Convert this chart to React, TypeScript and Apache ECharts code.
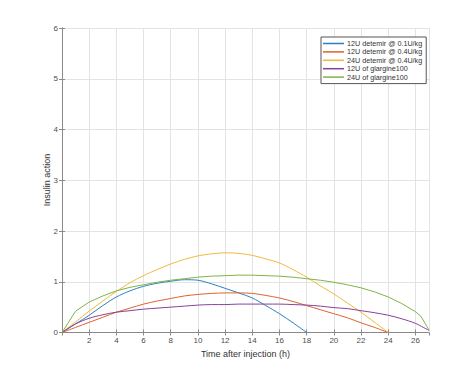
import React, { useEffect, useRef } from "react";
import * as echarts from "echarts";

const seriesNames = [
  "12U detemir @ 0.1U/kg",
  "12U detemir @ 0.4U/kg",
  "24U detemir @ 0.4U/kg",
  "12U of glargine100",
  "24U of glargine100",
];
const colors = ["#2a80c6", "#dc6330", "#eeba3a", "#87409a", "#80b444"];

const t18 = [0, 1, 2, 3, 4, 5, 6, 7, 8, 9, 10, 11, 12, 13, 14, 15, 16, 17, 18];
const t24 = [0, 1, 2, 3, 4, 5, 6, 7, 8, 9, 10, 11, 12, 13, 14, 15, 16, 17, 18, 19, 20, 21, 22, 23, 24];
const t27 = [0, 1, 2, 3, 4, 5, 6, 7, 8, 9, 10, 11, 12, 13, 14, 15, 16, 17, 18, 19, 20, 21, 22, 23, 24, 25, 26, 27];
const tGreen = [0, 1, 2, 3, 4, 5, 6, 7, 8, 9, 10, 11, 12, 13, 14, 15, 16, 17, 18, 19, 20, 21, 22, 23, 24, 25, 26, 26.4, 27];

const blue = [0, 0.17, 0.34, 0.53, 0.7, 0.82, 0.91, 0.97, 1.01, 1.04, 1.03, 0.96, 0.87, 0.78, 0.68, 0.53, 0.37, 0.19, 0];
const red = [0, 0.1, 0.2, 0.3, 0.4, 0.48, 0.56, 0.62, 0.67, 0.72, 0.75, 0.77, 0.78, 0.78, 0.77, 0.73, 0.68, 0.61, 0.53, 0.45, 0.37, 0.29, 0.19, 0.1, 0];
const yellow = [0, 0.21, 0.42, 0.62, 0.81, 0.98, 1.12, 1.24, 1.35, 1.44, 1.51, 1.55, 1.57, 1.56, 1.52, 1.45, 1.37, 1.24, 1.09, 0.92, 0.76, 0.58, 0.4, 0.2, 0];
const purple = [0, 0.17, 0.28, 0.35, 0.4, 0.43, 0.46, 0.48, 0.5, 0.52, 0.54, 0.55, 0.55, 0.56, 0.56, 0.56, 0.56, 0.55, 0.54, 0.52, 0.49, 0.47, 0.43, 0.39, 0.34, 0.27, 0.18, 0.04];
const green = [0, 0.42, 0.6, 0.72, 0.82, 0.89, 0.94, 0.99, 1.03, 1.06, 1.09, 1.11, 1.12, 1.13, 1.13, 1.12, 1.11, 1.09, 1.06, 1.03, 0.99, 0.94, 0.88, 0.8, 0.7, 0.57, 0.41, 0.32, 0.05];

const xMin = 0;
const xMax = 27;
const xInterval = 2;
const yMin = 0;
const yMax = 6;
const yInterval = 1;
const yAxisTitle = "Insulin action";
const xAxisTitle = "Time after injection (h)";

const pair = (ts: number[], vs: number[]) => ts.map((t, i) => [t, vs[i]]);

export default function App() {
  const ref = useRef<HTMLDivElement>(null);
  useEffect(() => {
    if (!ref.current) return;
    const chart = echarts.init(ref.current, undefined, { renderer: "svg" });
    const axisColor = "#8a8a8a";
    const labelColor = "#4d4d4d";
    const gridColor = "#e3e3e3";
    const font = "Arial, 'Liberation Sans', sans-serif";
    const data = [
      pair(t18, blue),
      pair(t24, red),
      pair(t24, yellow),
      pair(t27, purple),
      pair(tGreen, green),
    ];
    chart.setOption({
      animation: false,
      backgroundColor: "#ffffff",
      grid: { left: 62, top: 28, right: 45, bottom: 41.5 },
      graphic: [
        {
          type: "text",
          x: 47,
          y: 180,
          rotation: Math.PI / 2,
          style: {
            text: yAxisTitle,
            fontSize: 9,
            fill: "#333333",
            fontFamily: font,
            align: "center",
            verticalAlign: "middle",
          },
        },
      ],
      legend: {
        data: seriesNames.map((n, i) => ({
          name: n,
          icon: "rect",
          itemStyle: { color: colors[i] },
        })),
        orient: "vertical",
        left: 321,
        top: 37,
        itemWidth: 21,
        itemHeight: 1.5,
        itemGap: 0.4,
        padding: [2.5, 4, 2.5, 2],
        borderColor: "#555555",
        borderWidth: 1,
        backgroundColor: "#ffffff",
        textStyle: {
          fontSize: 7.2,
          lineHeight: 8,
          color: "#333333",
          fontFamily: font,
          padding: [0, 0, 0, -2],
        },
      },
      xAxis: [
        {
          type: "value",
          min: xMin,
          max: xMax,
          interval: xInterval,
          name: xAxisTitle,
          nameLocation: "middle",
          nameGap: 15,
          nameTextStyle: { fontSize: 9, color: "#333333", fontFamily: font },
          axisLine: { lineStyle: { color: axisColor, width: 1 } },
          axisTick: { inside: true, length: 3, lineStyle: { color: axisColor } },
          axisLabel: {
            fontSize: 8,
            color: labelColor,
            fontFamily: font,
            margin: 4,
            showMinLabel: false,
            showMaxLabel: false,
            formatter: (v: number) => (v === 0 || v === 27 ? "" : String(v)),
          },
          splitLine: { show: true, lineStyle: { color: gridColor, width: 1 } },
        },
        {
          type: "value",
          position: "top",
          min: xMin,
          max: xMax,
          interval: xInterval,
          axisLine: { show: true, lineStyle: { color: axisColor, width: 1 } },
          axisTick: { inside: true, length: 3, lineStyle: { color: axisColor } },
          axisLabel: { show: false },
          splitLine: { show: false },
        },
      ],
      yAxis: [
        {
          type: "value",
          min: yMin,
          max: yMax,
          interval: yInterval,
          axisLine: { show: true, lineStyle: { color: axisColor, width: 1 } },
          axisTick: { show: true, inside: true, length: 3, lineStyle: { color: axisColor } },
          axisLabel: { fontSize: 8, color: labelColor, fontFamily: font, margin: 4 },
          splitLine: { show: true, lineStyle: { color: gridColor, width: 1 } },
        },
        {
          type: "value",
          position: "right",
          min: yMin,
          max: yMax,
          interval: yInterval,
          axisLine: { show: true, lineStyle: { color: axisColor, width: 1 } },
          axisTick: { show: true, inside: true, length: 3, lineStyle: { color: axisColor } },
          axisLabel: { show: false },
          splitLine: { show: false },
        },
      ],
      series: seriesNames.map((name, i) => ({
        name,
        type: "line",
        data: data[i],
        showSymbol: false,
        symbol: "none",
        smooth: i === 4 ? false : 0.3,
        color: colors[i],
        itemStyle: { color: colors[i] },
        lineStyle: { width: 1, color: colors[i] },
        xAxisIndex: 0,
        yAxisIndex: 0,
      })),
    });
    return () => chart.dispose();
  }, []);
  return (
    <div
      ref={ref}
      style={{ position: "fixed", left: 0, top: 0, width: 474, height: 374 }}
    />
  );
}
